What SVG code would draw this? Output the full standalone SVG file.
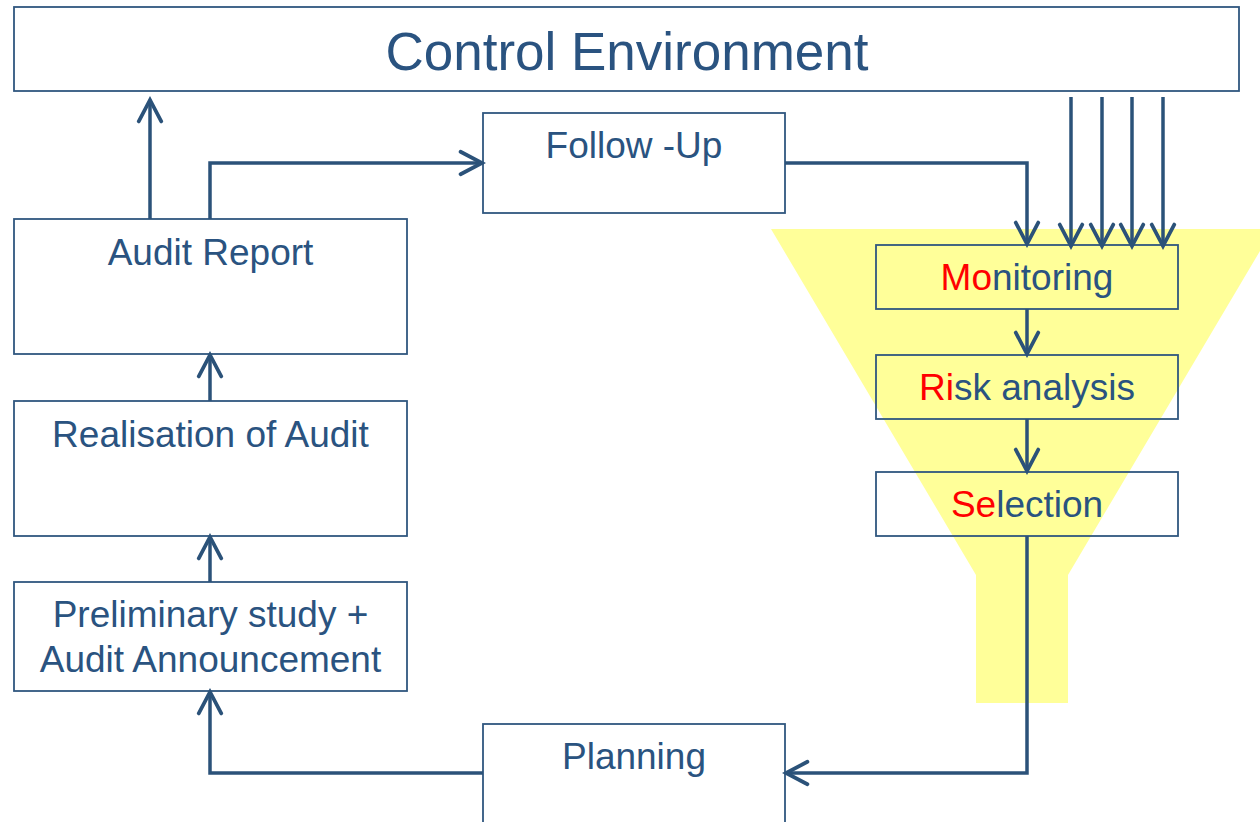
<svg xmlns="http://www.w3.org/2000/svg" width="1260" height="822" viewBox="0 0 1260 822">
<defs>
<style>
.box{fill:none;stroke:#30577f;stroke-width:1.8}
.wbox{fill:#ffffff;stroke:#30577f;stroke-width:1.8}
.t{font-family:"Liberation Sans",Arial,sans-serif;fill:#2a5380;text-anchor:middle;font-size:37px}
.r{fill:#ff0000}
.c{fill:none;stroke:#2b5279;stroke-width:3.5;stroke-linejoin:miter}
</style>
<marker id="ah" markerUnits="userSpaceOnUse" markerWidth="30" markerHeight="30" viewBox="-24 -14 28 28" refX="0" refY="0" orient="auto">
<path d="M-20,-10.5 L0,0 L-20,10.5" fill="none" stroke="#2b5279" stroke-width="3.5" stroke-linecap="round" stroke-linejoin="miter"/>
</marker>
</defs>
<rect width="1260" height="822" fill="#ffffff"/>
<polygon id="funnel" points="771,229 1273,229 1068,575 1068,703 976,703 976,575" fill="#ffff99"/>
<g id="control-environment">
<rect class="wbox" x="14" y="7" width="1225" height="84"/>
<text class="t" x="627" y="70" style="font-size:53px">Control Environment</text>
</g>
<g id="follow-up">
<rect class="wbox" x="483" y="113" width="302" height="100"/>
<text class="t" x="634" y="158">Follow -Up</text>
</g>
<g id="audit-report">
<rect class="wbox" x="14" y="219" width="393" height="135"/>
<text class="t" x="210.5" y="265">Audit Report</text>
</g>
<g id="realisation">
<rect class="wbox" x="14" y="401" width="393" height="135"/>
<text class="t" x="210.5" y="447">Realisation of Audit</text>
</g>
<g id="preliminary">
<rect class="wbox" x="14" y="582" width="393" height="109"/>
<text class="t" x="210.5" y="627">Preliminary study +</text>
<text class="t" x="210.5" y="672">Audit Announcement</text>
</g>
<g id="planning">
<rect class="wbox" x="483" y="724" width="302" height="110"/>
<text class="t" x="634" y="769">Planning</text>
</g>
<g id="monitoring">
<rect class="box" x="876" y="245" width="302" height="64"/>
<text class="t" x="1027" y="290"><tspan class="r">Mo</tspan>nitoring</text>
</g>
<g id="risk-analysis">
<rect class="box" x="876" y="355" width="302" height="64"/>
<text class="t" x="1027" y="400"><tspan class="r">Ri</tspan>sk analysis</text>
</g>
<g id="selection">
<rect class="box" x="876" y="472" width="302" height="64"/>
<text class="t" x="1027" y="517"><tspan class="r">Se</tspan>lection</text>
</g>
<g id="connectors">
<path class="c" d="M150,219 V100" marker-end="url(#ah)"/>
<path class="c" d="M210,219 V163 H482" marker-end="url(#ah)"/>
<path class="c" d="M785,163 H1027 V244" marker-end="url(#ah)"/>
<path class="c" d="M1071,97 V246" marker-end="url(#ah)"/>
<path class="c" d="M1102,97 V246" marker-end="url(#ah)"/>
<path class="c" d="M1132,97 V246" marker-end="url(#ah)"/>
<path class="c" d="M1163,97 V246" marker-end="url(#ah)"/>
<path class="c" d="M1027,309 V354" marker-end="url(#ah)"/>
<path class="c" d="M1027,419 V471" marker-end="url(#ah)"/>
<path class="c" d="M1027,536 V773 H786" marker-end="url(#ah)"/>
<path class="c" d="M483,773 H210 V692" marker-end="url(#ah)"/>
<path class="c" d="M210,582 V537" marker-end="url(#ah)"/>
<path class="c" d="M210,401 V355" marker-end="url(#ah)"/>
</g>
</svg>
